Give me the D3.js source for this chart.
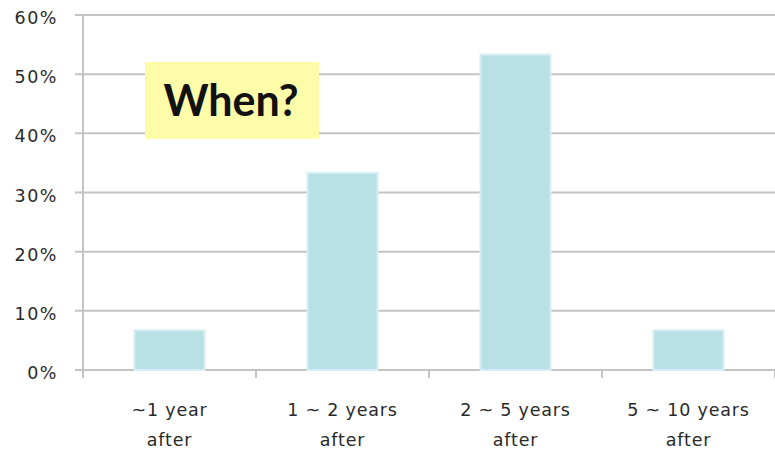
<!DOCTYPE html>
<html><head><meta charset="utf-8">
<script src="https://cdn.jsdelivr.net/npm/d3@7"></script>
<style>body{margin:0;background:#fff;}svg{display:block;}</style>
</head><body>
<svg id="c" width="775" height="452"></svg>
<script>
const categories = [["~1 year","after"],["1 ~ 2 years","after"],["2 ~ 5 years","after"],["5 ~ 10 years","after"]];
const values = [6.7, 33.3, 53.3, 6.7];
const yTicks = [0,10,20,30,40,50,60];
const title = "When?";

(function(){
const svg = d3.select("#c");
const mLeft = 83, mRight = 775, mTop = 15, mBottom = 370;
const font = "'DejaVu Sans', Verdana, sans-serif";
const xb = d3.scaleBand().domain(d3.range(categories.length)).range([mLeft,mRight]);
const y = d3.scaleLinear().domain([0,60]).range([mBottom,mTop]);

svg.append("g").selectAll("line").data(yTicks).join("line")
  .attr("x1",75).attr("x2",mRight).attr("y1",d=>y(d)).attr("y2",d=>y(d))
  .attr("stroke","#c4c4c4").attr("stroke-width",2);
svg.append("g").selectAll("text").data(yTicks).join("text")
  .attr("x",58).attr("y",d=>y(d)+9).attr("text-anchor","end")
  .attr("font-family",font).attr("font-size",17.5).attr("letter-spacing",1.5).attr("fill","#2a2a2a")
  .text(d=>d+"%");
svg.append("line").attr("x1",mLeft).attr("x2",mLeft).attr("y1",mTop).attr("y2",mBottom+8)
  .attr("stroke","#c4c4c4").attr("stroke-width",2);
svg.append("g").selectAll("line").data(d3.range(1,categories.length+1)).join("line")
  .attr("x1",i=>mLeft+xb.bandwidth()*i).attr("x2",i=>mLeft+xb.bandwidth()*i)
  .attr("y1",mBottom).attr("y2",mBottom+8).attr("stroke","#c4c4c4").attr("stroke-width",2);

svg.append("g").selectAll("rect").data(values).join("rect")
  .attr("x",(d,i)=>xb(i)+xb.bandwidth()/2-35).attr("width",70)
  .attr("y",d=>y(d)).attr("height",d=>mBottom-y(d))
  .attr("fill","#b9e0e4").attr("stroke","#d4eff3").attr("stroke-width",2);

const xl = svg.append("g").selectAll("text").data(categories).join("text")
  .attr("x",(d,i)=>xb(i)+xb.bandwidth()/2).attr("y",416).attr("text-anchor","middle")
  .attr("font-family",font).attr("font-size",17.5).attr("letter-spacing",0.8).attr("fill","#2a2a2a");
xl.each(function(d){
  const t=d3.select(this);
  d.forEach((s,k)=>t.append("tspan").attr("x",t.attr("x")).attr("dy",k?30:0).text(s));
});

svg.append("rect").attr("x",145).attr("y",62).attr("width",174).attr("height",77).attr("fill","#fdfca9");
svg.append("text").attr("x",231).attr("y",116).attr("text-anchor","middle")
  .attr("font-family","Lato, sans-serif").attr("font-weight","bold").attr("font-size",43).attr("fill","#111")
  .text(title);
})();
</script>
</body></html>
